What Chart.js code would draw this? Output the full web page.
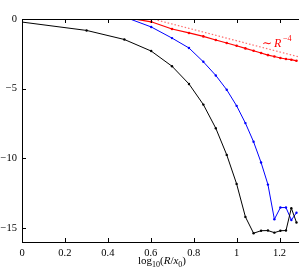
<!DOCTYPE html>
<html>
<head>
<meta charset="utf-8">
<script src="https://cdn.jsdelivr.net/npm/chart.js@4.4.0/dist/chart.umd.min.js"></script>
<style>
  html, body { margin: 0; padding: 0; background: #fff; overflow: hidden; }
  #wrap { width: 305px; height: 274px; }
</style>
</head>
<body>
<div id="wrap"><canvas id="chart-canvas"></canvas></div>
<script>
// x positions = log10(R/x0) for R = 1..19
var logR = [0, 0.301, 0.477, 0.602, 0.699, 0.778, 0.845, 0.903, 0.954, 1.0,
            1.041, 1.079, 1.114, 1.146, 1.176, 1.204, 1.230, 1.255, 1.279];

var blackVals = [-0.22, -0.82, -1.47, -2.3, -3.39, -4.66, -6.14, -7.84, -9.75, -11.83,
                 -14.2, -15.37, -15.19, -15.18, -15.33, -15.19, -15.18, -13.57, -14.6];
var blueVals = [null, null, 0.15, -0.57, -1.37, -2.08, -3.07, -4.05, -5.08, -6.23,
                -7.47, -8.81, -10.3, -11.88, -14.37, -13.53, -13.53, -14.42, -13.9];
var redVals = [null, null, 0.12, -0.2, -0.72, -1.0, -1.25, -1.51, -1.72, -1.92,
               -2.11, -2.28, -2.44, -2.59, -2.69, -2.8, -2.87, -2.92, -3.0];

// dotted ~R^-4 guide
var guideX = [0.6, 1.3];
var guideY = [0.04, -2.76];

var xTicks = [0, 0.2, 0.4, 0.6, 0.8, 1, 1.2];
var yTicks = [0, -5, -10, -15];

var serif = '"Liberation Serif", "DejaVu Serif", serif';

function pts(xs, ys) {
    var out = [];
    for (var i = 0; i < xs.length; i++) {
        if (ys[i] !== null) out.push({ x: xs[i], y: ys[i] });
    }
    return out;
}

function minus(v) {
    return String(v).replace('-', '\u2212');
}

// inward ticks, top spine and axis title / annotation
var frame = {
    id: 'frame',
    afterDatasetsDraw: function (chart) {
        var c = chart.ctx, a = chart.chartArea;
        var xs = chart.scales.x, ys = chart.scales.y;
        c.save();
        c.strokeStyle = '#000';
        c.lineWidth = 1;
        c.beginPath();
        c.moveTo(a.left, a.top + 0.5); c.lineTo(a.right, a.top + 0.5);
        c.moveTo(a.right - 0.5, a.top); c.lineTo(a.right - 0.5, a.bottom);
        xTicks.forEach(function (v) {
            var px = Math.round(xs.getPixelForValue(v)) + 0.5;
            c.moveTo(px, a.bottom); c.lineTo(px, a.bottom - 4);
            c.moveTo(px, a.top); c.lineTo(px, a.top + 4);
        });
        yTicks.forEach(function (v) {
            var py = Math.round(ys.getPixelForValue(v)) + 0.5;
            c.moveTo(a.left, py); c.lineTo(a.left + 4, py);
        });
        c.stroke();

        // x-axis title: log10(R/x0)
        var parts = [
            ['log', '11px ' + serif, 0],
            ['10', '8px ' + serif, 3],
            ['(', '11px ' + serif, 0],
            ['R', 'italic 11px ' + serif, 0],
            ['/', '11px ' + serif, 0],
            ['x', 'italic 11px ' + serif, 0],
            ['0', '8px ' + serif, 3],
            [')', '11px ' + serif, 0]
        ];
        var w = 0;
        parts.forEach(function (p) { c.font = p[1]; w += c.measureText(p[0]).width; });
        var x0 = 162 - w / 2, base = 264;
        c.fillStyle = '#000';
        c.textBaseline = 'alphabetic';
        parts.forEach(function (p) {
            c.font = p[1];
            c.fillText(p[0], x0, base + p[2]);
            x0 += c.measureText(p[0]).width;
        });

        // ~ R^-4 label
        c.fillStyle = '#ff0000';
        c.font = '12px "DejaVu Serif", serif';
        c.fillText('\u223C', 262, 47);
        c.font = 'italic 12px ' + serif;
        c.fillText('R', 274, 47);
        c.font = '8px ' + serif;
        c.fillText('\u22124', 283, 41);
        c.restore();
    }
};

var ctx = document.getElementById('chart-canvas').getContext('2d');

var chart = new Chart(ctx, {
    type: 'line',
    data: {
        datasets: [{
            label: 'guide',
            data: pts(guideX, guideY),
            borderColor: 'rgba(255, 60, 60, 0.75)',
            borderWidth: 1.2,
            borderDash: [1.5, 2],
            pointRadius: 0
        }, {
            label: 'black',
            data: pts(logR, blackVals),
            borderColor: '#000',
            backgroundColor: '#000',
            borderWidth: 1,
            pointRadius: 1.2,
            pointBorderWidth: 0
        }, {
            label: 'blue',
            data: pts(logR, blueVals),
            borderColor: '#0000ff',
            backgroundColor: '#0000ff',
            borderWidth: 1,
            pointRadius: 1.2,
            pointBorderWidth: 0
        }, {
            label: 'red',
            data: pts(logR, redVals),
            borderColor: '#ff0000',
            backgroundColor: '#ff0000',
            borderWidth: 1.2,
            pointRadius: 1.3,
            pointBorderWidth: 0
        }]
    },
    options: {
        responsive: true,
        maintainAspectRatio: false,
        animation: false,
        events: [],
        layout: { padding: { top: 19, left: 0, right: 0, bottom: 0 } },
        plugins: { legend: { display: false }, tooltip: { enabled: false } },
        scales: {
            x: {
                type: 'linear',
                min: 0,
                max: 1.3,
                afterFit: function (s) { s.height = 32; },
                afterBuildTicks: function (s) {
                    s.ticks = xTicks.map(function (v) { return { value: v }; });
                },
                grid: { display: true, drawOnChartArea: false, drawTicks: false },
                border: { display: true, color: '#000', width: 1 },
                ticks: {
                    color: '#000',
                    padding: 5,
                    maxRotation: 0,
                    font: { family: serif, size: 10.5 },
                    callback: function (v) { return String(v); }
                }
            },
            y: {
                min: -16,
                max: 0,
                afterFit: function (s) { s.width = 22; },
                afterBuildTicks: function (s) {
                    s.ticks = yTicks.map(function (v) { return { value: v }; });
                },
                grid: { display: true, drawOnChartArea: false, drawTicks: false },
                border: { display: true, color: '#000', width: 1 },
                ticks: {
                    color: '#000',
                    padding: 5,
                    font: { family: serif, size: 10.5 },
                    callback: function (v) { return minus(v); }
                }
            }
        }
    },
    plugins: [frame]
});
</script>
</body>
</html>
